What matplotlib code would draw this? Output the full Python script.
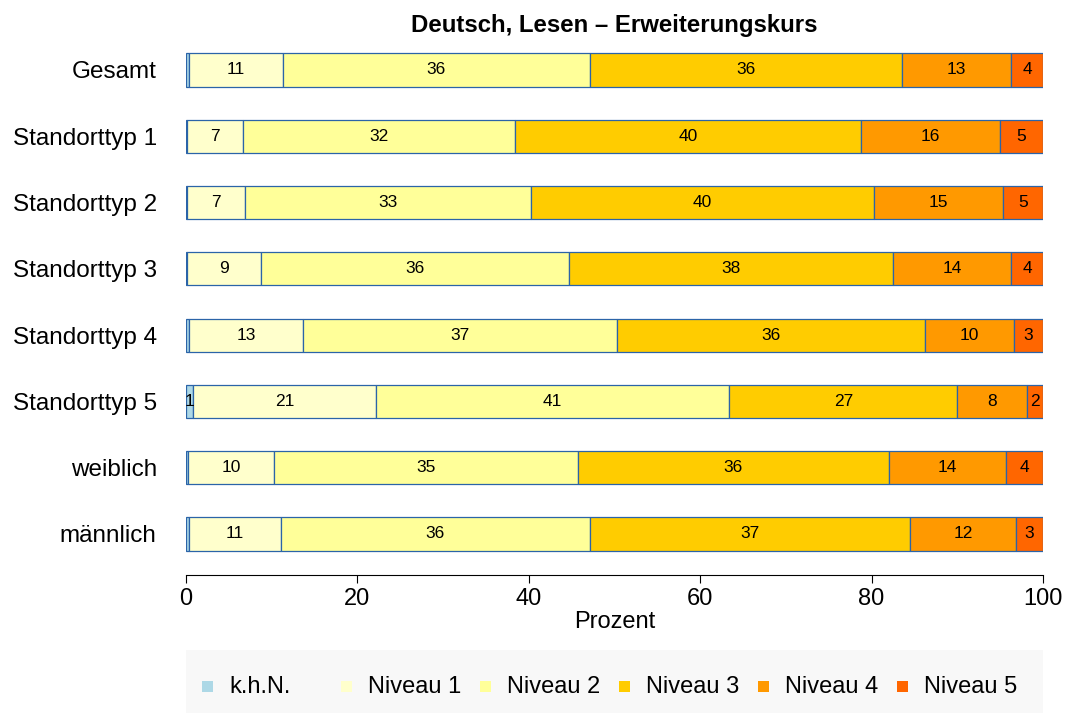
import numpy as np
import matplotlib
matplotlib.use("Agg")
import matplotlib.pyplot as plt
from matplotlib.patches import Rectangle

plt.rcParams['font.family'] = ['Liberation Sans', 'DejaVu Sans']

groups = ['Gesamt', 'Standorttyp 1', 'Standorttyp 2', 'Standorttyp 3',
          'Standorttyp 4', 'Standorttyp 5', 'weiblich', 'männlich']
levels = ['k.h.N.', 'Niveau 1', 'Niveau 2', 'Niveau 3', 'Niveau 4', 'Niveau 5']

khn = [0.3, 0.1, 0.1, 0.1, 0.4, 0.8, 0.2, 0.3]
niveau1 = [11.0, 6.6, 6.8, 8.7, 13.3, 21.4, 10.1, 10.8]
niveau2 = [35.8, 31.7, 33.4, 35.9, 36.6, 41.2, 35.4, 36.0]
niveau3 = [36.4, 40.4, 40.0, 37.8, 35.9, 26.6, 36.3, 37.4]
niveau4 = [12.8, 16.2, 15.0, 13.8, 10.4, 8.1, 13.7, 12.4]
niveau5 = [3.7, 5.0, 4.7, 3.7, 3.4, 1.9, 4.3, 3.1]

colors = ['#add8e6', '#ffffcc', '#ffff99', '#ffcc00', '#ff9900', '#ff6600']
edge = '#2b64a8'

series = [khn, niveau1, niveau2, niveau3, niveau4, niveau5]

W, H = 1065, 713
fig = plt.figure(figsize=(W / 100, H / 100), dpi=100)
ax = fig.add_axes([0.1746, 0.1935, 0.8047, 0.7434])

y = np.arange(len(groups))
left = np.zeros(len(groups))
for vals, col in zip(series, colors):
    vals = np.array(vals)
    ax.barh(y, vals, left=left, height=0.5, color=col, edgecolor=edge, linewidth=0.9)
    for yi, l, v in zip(y, left, vals):
        if round(v) >= 1:
            ax.text(l + v / 2, yi, '%.0f' % v, ha='center', va='center', fontsize=12.5)
    left += vals

ax.set_xlim(0, 100)
ax.set_ylim(7.62, -0.377)
ax.set_yticks(y)
ax.set_yticklabels(groups, fontsize=17.5)
ax.tick_params(axis='y', length=0, pad=21)
ax.set_xticks([0, 20, 40, 60, 80, 100])
ax.tick_params(axis='x', labelsize=17, length=6, width=0.8, pad=3)
ax.set_xlabel('Prozent', fontsize=17, labelpad=1)
for s in ['top', 'right', 'left']:
    ax.spines[s].set_visible(False)
ax.spines['bottom'].set_linewidth(0.8)
ax.set_title('Deutsch, Lesen – Erweiterungskurs', fontsize=17.3, fontweight='bold', pad=9)

# legend drawn by hand so the entries are evenly spaced
fig.patches.append(Rectangle((186 / W, 0), (1043 - 186) / W, 63 / H,
                             transform=fig.transFigure, facecolor='#f8f8f8',
                             edgecolor='none', zorder=0))
for i, (lab, col) in enumerate(zip(levels, colors)):
    x0 = 202 + i * 139
    fig.patches.append(Rectangle((x0 / W, (H - 692) / H), 11 / W, 11 / H,
                                 transform=fig.transFigure, facecolor=col,
                                 edgecolor='none'))
    fig.text((x0 + 27) / W, (H - 687) / H, lab, fontsize=17, ha='left', va='center')

fig.savefig('out.png', dpi=100)
